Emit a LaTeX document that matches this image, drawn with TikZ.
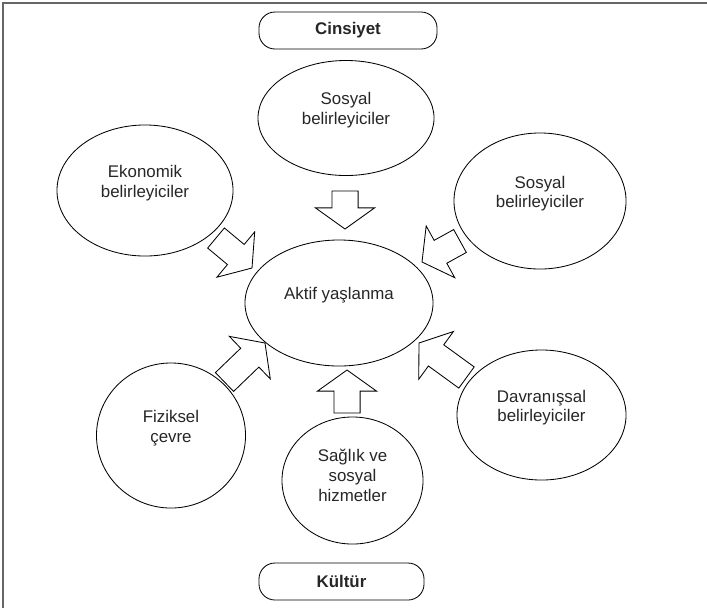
\documentclass[tikz,border=0pt]{standalone}
\usepackage{fontspec}
\setmainfont{Liberation Sans}
\usepackage{tikz}
\usetikzlibrary{positioning, shapes, calc}
\usepackage{xcolor}

\definecolor{yazi}{gray}{0.15}
\definecolor{cerceve}{gray}{0.4}

% flecha de bloque: #1 = base, #2 = punta
\newcommand{\flecha}[2]{%
  \coordinate (fc) at ($(#2)!15pt!(#1)$);
  \draw[bloque] ($(#1)!9.3pt!-90:(#2)$) -- ($(fc)!9.3pt!-90:(#2)$) -- ($(fc)!21pt!-90:(#2)$)
    -- (#2) -- ($(fc)!21pt!90:(#2)$) -- ($(fc)!9.3pt!90:(#2)$) -- ($(#1)!9.3pt!90:(#2)$) -- cycle;
}

\begin{document}
\begin{tikzpicture}[x=0.025cm, y=-0.025cm]
          \tikzstyle{elipse} = [ellipse, draw=black, line width=0.6pt, inner sep=0pt, align=center,
            text=yazi, text depth=13pt, font=\fontsize{12}{14.2}\selectfont]
          \tikzstyle{caja} = [rectangle, draw=black, line width=0.6pt, rounded corners=0.4cm,
            minimum height=0.925cm, text=yazi, font=\fontsize{12}{14.2}\selectfont\bfseries]
          \tikzstyle{bloque} = [draw=black, line width=0.6pt, line join=miter]

          \useasboundingbox (0,0) rectangle (707,608);

          % marco
          \coordinate (m1) at (3,608);
          \coordinate (m2) at (3,3);
          \coordinate (m3) at (707,3);
          \draw[cerceve, line width=1.4pt] (m1) -- (m2) -- (m3);

          % cajas
          \node[caja, minimum width=4.45cm] (cinsiyet) at (348,30.5) {Cinsiyet};
          \node[caja, minimum width=4.125cm] (kultur) at (341.5,581.5) {Kültür};

          % elipses
          \node[elipse, minimum width=4.7cm, minimum height=3.15cm] (aktif) at (339,303) {Aktif yaşlanma};
          \node[elipse, minimum width=4.4cm, minimum height=2.875cm] (sosyal1) at (346,118) {Sosyal\\belirleyiciler};
          \node[elipse, minimum width=4.4cm, minimum height=3.275cm] (ekonomik) at (145,190.5) {Ekonomik\\belirleyiciler};
          \node[elipse, minimum width=4.3cm, minimum height=3.4cm] (sosyal2) at (540,201) {Sosyal\\belirleyiciler};
          \node[elipse, minimum width=4.225cm, minimum height=3.25cm] (davranis) at (541.5,415) {Davranışsal\\belirleyiciler};
          \node[elipse, minimum width=3.725cm, minimum height=3.625cm] (fiziksel) at (171,435.5) {Fiziksel\\çevre};
          \node[elipse, minimum width=3.525cm, minimum height=3.175cm, text depth=7pt] (saglik) at (352.5,480.5) {Sağlık ve\\sosyal\\hizmetler};

          % flechas
          \foreach \ax/\ay/\bx/\by [count=\i] in {345/191/345/229, 347/413/347/370, 216/238/252/268,
              460/241/422/262, 224.5/382/265/343, 466.5/377.5/419/343} {
            \coordinate (b\i) at (\ax,\ay);
            \coordinate (p\i) at (\bx,\by);
            \flecha{b\i}{p\i}
          }
        \end{tikzpicture}
\end{document}
